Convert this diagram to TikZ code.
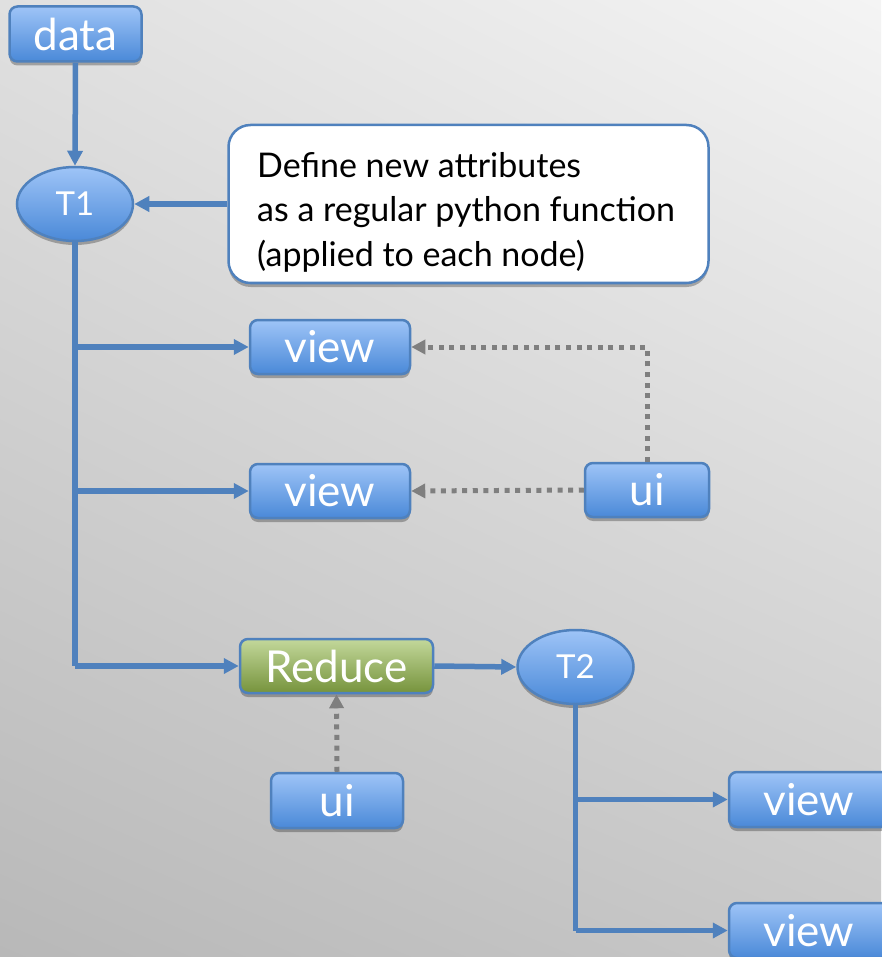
\documentclass[tikz,border=0pt]{standalone}
\usepackage{fontspec}
\setmainfont{Lato}
\usetikzlibrary{shapes.geometric,arrows.meta,shadows,shadings}
\definecolor{bord}{HTML}{4F81BD}
\definecolor{btop}{HTML}{9EC4F7}
\definecolor{bbot}{HTML}{4A89D8}
\definecolor{gtop}{HTML}{C3D89B}
\definecolor{gbot}{HTML}{76933C}
\definecolor{dotc}{HTML}{7F7F7F}
\definecolor{bgul}{HTML}{E0E0E0}
\definecolor{bgur}{HTML}{F4F4F4}
\definecolor{bgll}{HTML}{B8B8B8}
\definecolor{bglr}{HTML}{C8C8C8}
\tikzset{
  shad/.style={drop shadow={shadow xshift=0pt,shadow yshift=-4pt,opacity=0.28,fill=black}},
  bluebox/.style={draw=bord,line width=2.5pt,rounded corners=8pt,top color=btop,bottom color=bbot,
    text=white,inner sep=0pt,font=\fontsize{44}{48}\selectfont,shad},
  greenbox/.style={bluebox,top color=gtop,bottom color=gbot},
  blueell/.style={ellipse,draw=bord,line width=2.5pt,top color=btop,bottom color=bbot,
    text=white,inner sep=0pt,minimum width=116pt,minimum height=74pt,font=\fontsize{33}{36}\selectfont,shad},
  callout/.style={draw=bord,line width=2.5pt,rounded corners=22pt,fill=white,
    minimum width=480pt,minimum height=158pt,inner sep=0pt,shad},
  conn/.style={draw=bord,line width=5.5pt,-{Triangle[length=15pt,width=15pt]}},
  connline/.style={draw=bord,line width=5.5pt},
  dotconn/.style={draw=dotc,line width=5pt,dash pattern=on 5pt off 5.6pt,-{Triangle[length=14pt,width=14pt]}},
}
\begin{document}
\begin{tikzpicture}[x=1pt,y=-1pt]
\useasboundingbox (0,0) rectangle (881,957);
\shade[upper left=bgul,upper right=bgur,lower left=bgll,lower right=bglr]
  (0,0) rectangle (881,957);

\node[bluebox,minimum width=132pt,minimum height=55pt] (data) at (75.5,34) {data};
\node[blueell] (T1) at (75,204) {T1};
\node[callout] (note) at (468.5,204) {};
\node[anchor=north west,align=left,inner sep=0pt,font=\fontsize{34}{44.5}\selectfont] (notetext) at (257,152)
  {Define new attributes\\as a regular python function\\(applied to each node)};
\node[bluebox,minimum width=160pt,minimum height=54pt] (view1) at (330,347) {view};
\node[bluebox,minimum width=160pt,minimum height=54pt] (view2) at (330,491) {view};
\node[bluebox,minimum width=124pt,minimum height=54pt] (ui1) at (647,490) {ui};
\node[greenbox,minimum width=193pt,minimum height=54pt] (reduce) at (336.5,666) {Reduce};
\node[blueell] (T2) at (575.5,667) {T2};
\node[bluebox,minimum width=132pt,minimum height=55pt] (ui2) at (337,800.5) {ui};
\node[bluebox,minimum width=160pt,minimum height=55pt] (view3) at (809,799.5) {view};
\node[bluebox,minimum width=160pt,minimum height=55pt] (view4) at (809,930.5) {view};

\draw[conn] (data.south) -- (T1.north);
\draw[conn] (note.west) -- (T1.east);
\draw[connline] (T1.south) -- (T1.south |- reduce.west);
\draw[conn] (T1.south |- reduce.west) -- (reduce.west);
\draw[conn] (T1.south |- view1.west) -- (view1.west);
\draw[conn] (T1.south |- view2.west) -- (view2.west);
\draw[dotconn] (ui1.north) |- (view1.east);
\draw[dotconn] (ui1.west) -- (view2.east);
\draw[dotconn] (ui2.north) -- (reduce.south);
\draw[conn] (reduce.east) -- (T2.west);
\draw[connline] (T2.south) -- (T2.south |- view4.west);
\draw[conn] (T2.south |- view4.west) -- (view4.west);
\draw[conn] (T2.south |- view3.west) -- (view3.west);
\end{tikzpicture}
\end{document}
